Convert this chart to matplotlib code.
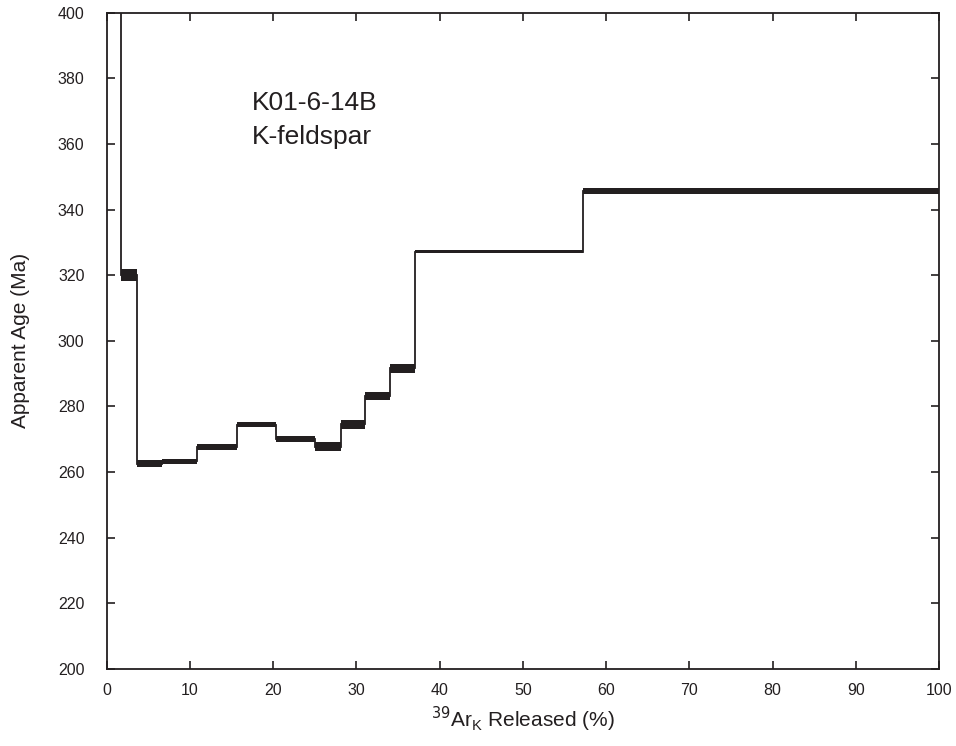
import numpy as np
import matplotlib.pyplot as plt

plt.rcParams['font.family'] = ['Liberation Sans', 'DejaVu Sans']

# cumulative 39Ar release edges (%) and apparent ages (Ma) with half-widths
edges = [0.0, 1.7, 3.6, 6.7, 10.8, 15.6, 20.4, 25.0, 28.1, 31.0, 34.0, 37.1, 57.2, 100.0]
ages = [480.0, 320.0, 262.6, 263.3, 267.6, 274.5, 270.1, 267.8, 274.6, 283.2, 291.6, 327.2, 345.6]
errs = [2.0, 1.8, 1.1, 0.8, 0.9, 0.9, 0.9, 1.3, 1.4, 1.3, 1.3, 0.5, 1.0]

ink = '#231f20'

fig = plt.figure(figsize=(9.56, 7.46), dpi=100)
ax = fig.add_axes([0.1116, 0.1032, 0.8706, 0.8798])

ages = np.array(ages)
errs = np.array(errs)
ax.stairs(ages + errs, edges, baseline=ages - errs, fill=True, color=ink, lw=0)
ax.stairs(ages, edges, color=ink, lw=1.3, baseline=None)

ax.set_xlim(0, 100)
ax.set_ylim(200, 400)
ax.set_xticks(np.arange(0, 101, 10))
ax.set_yticks(np.arange(200, 401, 20))
ax.tick_params(direction='in', top=True, right=True, length=6, width=1.2,
               color=ink, labelsize=11.5, labelcolor=ink)
ax.tick_params(axis='x', pad=10)
ax.tick_params(axis='y', pad=16)
for s in ax.spines.values():
    s.set_linewidth(1.3)
    s.set_color(ink)

ax.set_xlabel(r'$^{39}$Ar$_{\mathregular{K}}$ Released (%)', fontsize=15, color=ink, labelpad=5)
ax.set_ylabel('Apparent Age (Ma)', fontsize=15, color=ink, labelpad=20)

ax.text(17.5, 376, 'K01-6-14B\nK-feldspar', fontsize=19, color=ink,
        va='top', ha='left', linespacing=1.5)

fig.savefig('out.png', dpi=100)
